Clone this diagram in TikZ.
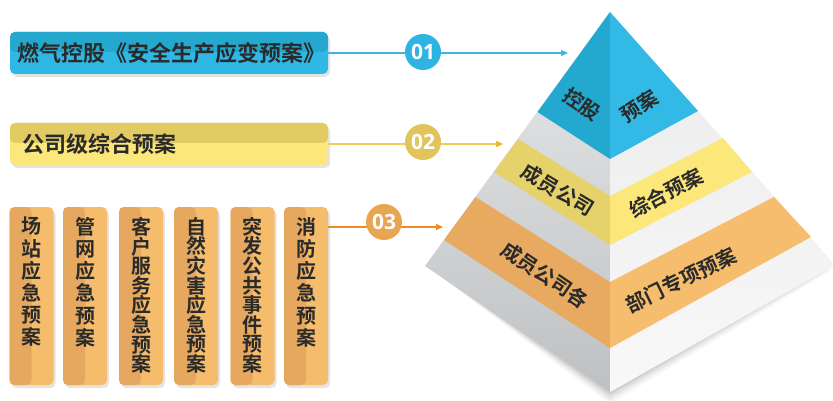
\documentclass[tikz,border=0pt]{standalone}
\usepackage{fontspec}
\newfontfamily\cjk{Noto Sans CJK SC}[BoldFont={Noto Sans CJK SC Bold}]
\newfontfamily\numfont{Open Sans}[BoldFont={Open Sans Bold}]
\usetikzlibrary{arrows.meta,shadows}
\newcommand\mysixfont{\cjk\bfseries\fontsize{20}{22.2}\selectfont\lineskiplimit=-30pt\relax}
\newcommand\myeightfont{\cjk\bfseries\fontsize{20}{19.6}\selectfont\lineskiplimit=-30pt\relax}
\definecolor{blueD}{HTML}{24A8CE}
\definecolor{blueL}{HTML}{2FB7E5}
\definecolor{yelD}{HTML}{E3CB64}
\definecolor{yelL}{HTML}{FCE77A}
\definecolor{orD}{HTML}{E6A85E}
\definecolor{orL}{HTML}{F5BC6C}
\definecolor{txt}{HTML}{2A2A2A}
\definecolor{cA}{HTML}{2DB4E2}
\definecolor{cB}{HTML}{E2C45C}
\definecolor{cC}{HTML}{E8A552}
\definecolor{lnA}{HTML}{3DB7DF}
\definecolor{lnB}{HTML}{F2CC55}
\definecolor{arB}{HTML}{F5B52A}
\definecolor{lnC}{HTML}{EE8A23}
\definecolor{pbL}{HTML}{23A9CF}
\definecolor{pbR}{HTML}{32B9E6}
\definecolor{pyL}{HTML}{E6D26B}
\definecolor{pyR}{HTML}{FCE77A}
\definecolor{poL}{HTML}{E8A960}
\definecolor{poR}{HTML}{F5BD6D}
\definecolor{gLt}{HTML}{E8E9EA}
\definecolor{gLb}{HTML}{BEC0C2}
\definecolor{gRt}{HTML}{EBEBEB}
\definecolor{gRb}{HTML}{F8F8F8}
\definecolor{shd}{HTML}{E4E4E4}
\tikzset{
  hbox/.style={rounded corners=5pt, minimum width=318pt, minimum height=42pt, inner sep=0pt,
    drop shadow={shadow xshift=2pt, shadow yshift=-3pt, fill=shd, opacity=1}},
  vbox/.style={rounded corners=5pt, minimum width=44pt, minimum height=178pt, inner sep=0pt, fill=orL,
    drop shadow={shadow xshift=2pt, shadow yshift=-3pt, fill=shd, opacity=1},
    path picture={\fill[orD] (path picture bounding box.north west) rectangle (path picture bounding box.south);}},
  htext/.style={font=\cjk\bfseries\fontsize{22}{26}\selectfont, text=txt, inner sep=0pt, anchor=west},
  vsix/.style={font=\mysixfont, align=center, text=txt, inner sep=0pt, anchor=north},
  veight/.style={font=\myeightfont, align=center, text=txt, inner sep=0pt, anchor=north},
  num/.style={circle, minimum size=36pt, inner sep=0pt, text=white, font=\numfont\bfseries\fontsize{21}{24}\selectfont},
  ptext/.style={font=\cjk\bfseries\fontsize{20}{24}\selectfont, text=txt, inner sep=0pt},
}
\begin{document}
\begin{tikzpicture}[x=1pt,y=-1pt]
\useasboundingbox (0,0) rectangle (833,401);
\clip (0,0) rectangle (833,401);
\fill[white] (0,0) rectangle (833,401);

% ---------- left boxes ----------
\node[hbox, fill=blueL, path picture={\fill[blueD] (path picture bounding box.north west) rectangle ([yshift=1pt]path picture bounding box.east);}] (b1) at (169,53) {};
\node[htext] (b1t) at (17,53) {燃气控股《安全生产应变预案》};
\node[hbox, fill=yelL, path picture={\fill[yelD] (path picture bounding box.north west) rectangle ([yshift=1pt]path picture bounding box.east);}] (b2) at (169,144) {};
\node[htext] (b2t) at (22,144) {公司级综合预案};

\node[vbox] (k1) at (31.5,296) {};
\node[vbox] (k2) at (85,296) {};
\node[vbox] (k3) at (141,296) {};
\node[vbox] (k4) at (196,296) {};
\node[vbox] (k5) at (252.5,296) {};
\node[vbox] (k6) at (306,296) {};
\node[vsix] (k1t) at (31.5,217) {场\\站\\应\\急\\预\\案};
\node[vsix] (k2t) at (85,217) {管\\网\\应\\急\\预\\案};
\node[veight] (k3t) at (141,217) {客\\户\\服\\务\\应\\急\\预\\案};
\node[veight] (k4t) at (196,217) {自\\然\\灾\\害\\应\\急\\预\\案};
\node[veight] (k5t) at (252.5,217) {突\\发\\公\\共\\事\\件\\预\\案};
\node[vsix] (k6t) at (306,217) {消\\防\\应\\急\\预\\案};

% ---------- connectors ----------
\coordinate (a1) at (568,53);
\coordinate (a2) at (503,144);
\coordinate (a3) at (443,227);
\draw[lnA, line width=1.3pt, -{Triangle[length=7pt,width=6pt]}] (b1.east) -- (a1);
\draw[lnB, line width=1.3pt, -{Triangle[length=7pt,width=6pt,color=arB]}] (b2.east) -- (a2);
\draw[lnC, line width=1.3pt, -{Triangle[length=7pt,width=6pt]}] (k6.east |- a3) -- (a3);
\node[num, fill=cA] (n1) at (423,52) {01};
\node[num, fill=cB] (n2) at (423,142) {02};
\node[num, fill=cC] (n3) at (384,222) {03};

% ---------- pyramid ----------
\coordinate (A) at (610,12);
\coordinate (L) at (425,266);
\coordinate (R) at (835,265);
\coordinate (B) at (610,392);
% shadow
\foreach \o/\op in {3/0.07,6/0.05,9/0.04,12/0.03}{
  \fill[black, opacity=\op] (432,270) -- (610,392+\o) -- (833,262+\o*0.6) -- (610,320) -- cycle;
}
\shade[top color=gLt, bottom color=gLb] (A) -- (L) -- (B) -- cycle;
\shade[top color=gRt, bottom color=gRb] (A) -- (B) -- (R) -- cycle;
% blue top
\fill[pbL] (A) -- (537.5,112) -- (610,159) -- cycle;
\fill[pbR] (A) -- (610,159) -- (698,111) -- cycle;
% yellow band
\fill[pyL] (518,139) -- (494,172) -- (610,245) -- (610,196) -- cycle;
\fill[pyR] (610,196) -- (610,245) -- (752,172) -- (723,138) -- cycle;
% orange band
\fill[poL] (475.5,197) -- (444,240) -- (610,348) -- (610,282) -- cycle;
\fill[poR] (610,282) -- (610,348) -- (811,237) -- (774,197) -- cycle;

\node[ptext, rotate=-34] (p1) at (582,104) {控股};
\node[ptext, rotate=33] (p2) at (639,106) {预案};
\node[ptext, rotate=-31] (p3) at (558,190) {成员公司};
\node[ptext, rotate=28] (p4) at (666,193) {综合预案};
\node[ptext, rotate=-34] (p5) at (545,275) {成员公司各};
\node[ptext, rotate=26] (p6) at (681,280) {部门专项预案};
\end{tikzpicture}
\end{document}
